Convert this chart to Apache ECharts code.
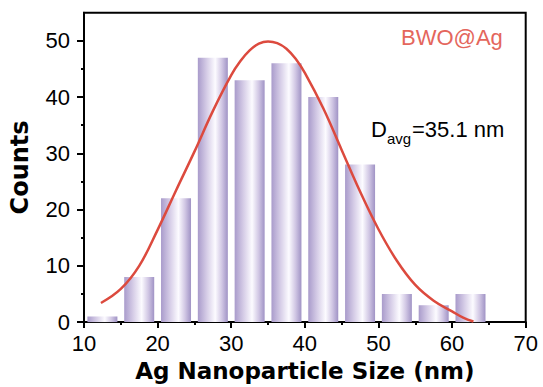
<!DOCTYPE html>
<html>
<head>
<meta charset="utf-8">
<script src="https://cdn.jsdelivr.net/npm/echarts@6/dist/echarts.min.js"></script>
<style>html,body{margin:0;padding:0;background:#fff;}#c{width:543px;height:387px;}</style>
</head>
<body>
<div id="c"></div>
<script>
// Histogram bin centres (nm) and counts
var binCenters = [12.5, 17.5, 22.5, 27.5, 32.5, 37.5, 42.5, 47.5, 52.5, 57.5, 62.5];
var counts = [1, 8, 22, 47, 43, 46, 40, 28, 5, 3, 5];
// Fitted distribution curve
var curveX = [12.3, 15, 17.5, 20, 22.5, 25, 27.5, 30, 31.25, 32.5, 33.75, 35, 36.25, 37.5, 38.75, 40, 42.5, 45, 47.5, 50, 52.5, 55, 57.5, 60, 61.5, 62.9];
var curveY = [3.4, 5.9, 10.0, 16.4, 23.4, 30.3, 37.5, 43.9, 46.4, 48.3, 49.5, 49.9, 49.6, 48.6, 46.8, 44.3, 38.0, 30.6, 23.2, 16.5, 10.9, 6.6, 3.8, 1.9, 0.8, 0.1];
// Axis ticks
var xTicks = [10, 20, 30, 40, 50, 60, 70];
var yTicks = [0, 10, 20, 30, 40, 50];
var yMinorTicks = [5, 15, 25, 35, 45];
var sampleLabel = 'BWO@Ag';
var avgLabel = ['D', 'avg', '=35.1 nm'];

var chart = echarts.init(document.getElementById('c'), null, {renderer: 'svg'});
var barData = binCenters.map(function (x, i) { return [x, counts[i]]; });
var curveData = curveX.map(function (x, i) { return [x, curveY[i]]; });
var labelFont = 'Liberation Sans, Arial, sans-serif';

chart.setOption({
  animation: false,
  backgroundColor: '#fff',
  grid: {left: 80.7, right: 17.3, top: 12.7, bottom: 63, show: true, borderColor: '#000', borderWidth: 2, backgroundColor: 'transparent'},
  xAxis: {
    type: 'value', min: xTicks[0], max: xTicks[xTicks.length - 1], interval: 10,
    name: 'Ag Nanoparticle Size (nm)', nameLocation: 'middle', nameGap: 34,
    nameTextStyle: {fontFamily: 'DejaVu Sans', fontWeight: 'bold', fontSize: 23, color: '#000'},
    axisLine: {show: true, lineStyle: {color: '#000', width: 2}},
    axisTick: {show: true, inside: false, length: 6, lineStyle: {color: '#000', width: 2}},
    minorTick: {show: true, splitNumber: 2, length: 3, lineStyle: {color: '#000', width: 2}},
    axisLabel: {margin: 10, fontFamily: labelFont, fontSize: 22, color: '#000', showMinLabel: true, showMaxLabel: true},
    splitLine: {show: false}, minorSplitLine: {show: false}
  },
  yAxis: [{
    type: 'value', min: 0, max: 55,
    name: 'Counts', nameLocation: 'middle', nameGap: 52,
    nameTextStyle: {fontFamily: 'DejaVu Sans', fontWeight: 'bold', fontSize: 24, color: '#000'},
    axisLine: {show: true, lineStyle: {color: '#000', width: 2}},
    axisTick: {show: true, inside: false, length: 7, customValues: yTicks, lineStyle: {color: '#000', width: 2}},
    axisLabel: {margin: 14, fontFamily: labelFont, fontSize: 22, color: '#000', customValues: yTicks},
    splitLine: {show: false}
  }, {
    type: 'value', min: 0, max: 55, position: 'left',
    axisLine: {show: false},
    axisTick: {show: true, inside: false, length: 3, customValues: yMinorTicks, lineStyle: {color: '#000', width: 2}},
    axisLabel: {show: false},
    splitLine: {show: false}
  }],
  series: [{
    type: 'bar', data: barData, barWidth: 30, yAxisIndex: 0,
    itemStyle: {
      color: new echarts.graphic.LinearGradient(0, 0, 1, 0, [
        {offset: 0, color: '#a99bcb'},
        {offset: 0.3, color: '#d6cde7'},
        {offset: 0.58, color: '#fcfbff'},
        {offset: 0.8, color: '#d1c7e4'},
        {offset: 1, color: '#a093c5'}
      ])
    }
  }, {
    type: 'line', data: curveData, smooth: 0.4, symbol: 'none', yAxisIndex: 0,
    lineStyle: {color: '#dc4a3e', width: 2.5}, z: 5
  }],
  graphic: [
    {type: 'text', left: 401, top: 26, style: {text: sampleLabel, font: '22px ' + labelFont, fill: '#e4665c'}},
    {type: 'text', left: 371, top: 118, style: {text: avgLabel[0], font: '22px ' + labelFont, fill: '#000'}},
    {type: 'text', left: 387, top: 131, style: {text: avgLabel[1], font: '15px ' + labelFont, fill: '#000'}},
    {type: 'text', left: 412, top: 118, style: {text: avgLabel[2], font: '22px ' + labelFont, fill: '#000'}}
  ]
});
</script>
</body>
</html>
